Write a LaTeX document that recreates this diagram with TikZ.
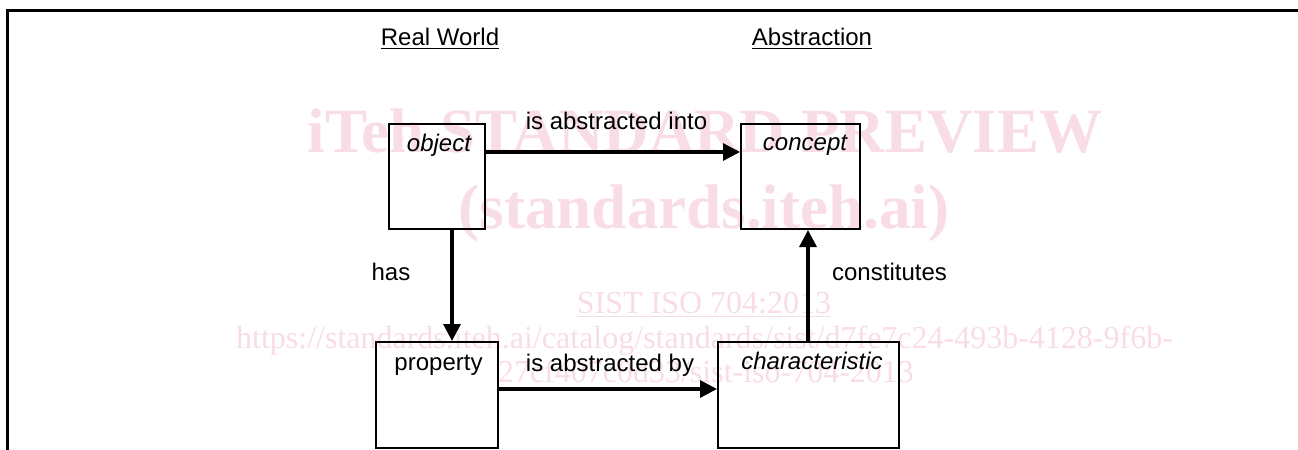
\documentclass[tikz,border=0pt]{standalone}
\usepackage{fontspec}
\setmainfont{Liberation Sans}
\newfontfamily\wmfont{Liberation Serif}
\usetikzlibrary{arrows.meta}
\definecolor{wm}{RGB}{249,221,229}
\begin{document}
\begin{tikzpicture}[x=0.5pt,y=-0.5pt,
  box/.style={draw,line width=1pt,inner sep=0pt,anchor=north west},
  lbl/.style={anchor=base,inner sep=0pt,font=\fontsize{12}{14}\selectfont},
  arr/.style={line width=1.6pt,-{Triangle[length=8.5pt,width=8.5pt]}},
  wmbig/.style={anchor=base,inner sep=0pt,text=wm,font=\wmfont\bfseries\fontsize{31.5}{36}\selectfont},
  wmsmall/.style={anchor=base,inner sep=0pt,text=wm,font=\wmfont\fontsize{16}{18}\selectfont}]
\useasboundingbox (0,0) rectangle (1298,450);
% watermark
\node[wmbig] (wm1) at (705,152) {iTeh STANDARD PREVIEW};
\node[wmbig] (wm2) at (704,228) {(standards.iteh.ai)};
\node[wmsmall] (wm3) at (704,313) {\underline{SIST ISO 704:2013}};
\node[wmsmall] (wm4) at (704.5,348) {https://standards.iteh.ai/catalog/standards/sist/d7fe7c24-493b-4128-9f6b-};
\node[wmsmall] (wm5) at (706,382) {27cf407c0d33/sist-iso-704-2013};
% frame
\draw[line width=1.5pt] (7,450) -- (7,10) -- (1298,10);
% headings
\node[lbl] (rw) at (440,45) {\underline{Real World}};
\node[lbl] (ab) at (812,45) {\underline{Abstraction}};
% boxes
\node[box, minimum width=48pt, minimum height=52.5pt] (object) at (388,123) {};
\node[box, minimum width=59.5pt, minimum height=52.5pt] (concept) at (740,123) {};
\node[box, minimum width=61pt, minimum height=53pt] (property) at (375,341) {};
\node[box, minimum width=90.5pt, minimum height=53pt] (characteristic) at (717,341) {};
% box texts
\node[lbl] (tobj) at (439,151) {\itshape object};
\node[lbl] (tcon) at (805,150) {\itshape concept};
\node[lbl] (tprop) at (438.5,370) {property};
\node[lbl] (tchar) at (812,369) {\itshape characteristic};
% connector labels
\node[lbl] (l1) at (616.5,129) {is abstracted into};
\node[lbl] (l2) at (391,280) {has};
\node[lbl] (l3) at (889.5,280) {constitutes};
\node[lbl] (l4) at (610,371) {is abstracted by};
% connectors
\draw[arr] ([yshift=-14.5pt]object.north east) -- ([yshift=-14.5pt]concept.north west);
\path ([xshift=32pt]object.south west) coordinate (hasS);
\draw[arr] (hasS) -- (hasS |- property.north);
\draw[arr] ([yshift=-24pt]property.north east) -- ([yshift=-24pt]characteristic.north west);
\path ([xshift=45.5pt]characteristic.north west) coordinate (conS);
\draw[arr] (conS) -- (conS |- concept.south);
\end{tikzpicture}
\end{document}
